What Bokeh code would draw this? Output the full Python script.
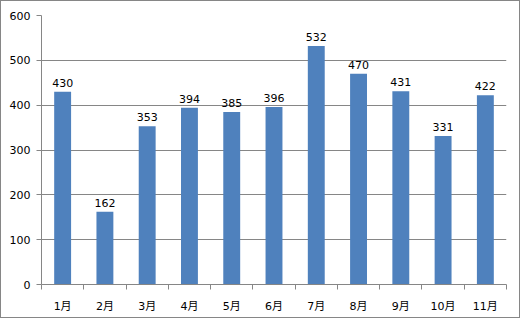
from bokeh.plotting import figure
from bokeh.models import ColumnDataSource, FixedTicker, Range1d
from bokeh.core.properties import value
from bokeh.embed import file_html
from bokeh.resources import INLINE

months = ["1月", "2月", "3月", "4月", "5月", "6月", "7月", "8月", "9月", "10月", "11月"]
values = [430, 162, 353, 394, 385, 396, 532, 470, 431, 331, 422]
y_ticks = [0, 100, 200, 300, 400, 500, 600]

FONT = "DejaVu Sans, Noto Sans CJK JP"
GREY = "#868686"
BLUE = "#4F81BD"

xs = list(range(1, len(months) + 1))
src = ColumnDataSource(dict(x=xs, v=values, lab=[str(v) for v in values]))

p = figure(width=520, height=318, output_backend="svg", toolbar_location=None,
           x_range=Range1d(0.5, len(months) + 0.5), y_range=Range1d(0, 600),
           min_border_left=40, min_border_right=15, min_border_top=14, min_border_bottom=35)
p.styles = {"border": "1px solid " + GREY}
p.outline_line_color = None
p.background_fill_color = "white"
p.border_fill_color = "white"

p.vbar(x="x", top="v", width=0.4, source=src, fill_color=BLUE, line_color=None)

p.text(x="x", y="v", text="lab", source=src, text_align="center",
       text_baseline="alphabetic", y_offset=-9, text_font=value("DejaVu Sans"),
       text_font_size="11px", text_color="black")

p.xgrid.visible = False
p.ygrid.grid_line_color = GREY
p.ygrid.ticker = FixedTicker(ticks=y_ticks)

p.xaxis.ticker = FixedTicker(ticks=xs, minor_ticks=[i + 0.5 for i in range(0, len(months) + 1)])
p.xaxis.major_label_overrides = {i: m for i, m in zip(xs, months)}
p.xaxis.major_tick_out = 0
p.xaxis.major_tick_in = 0
p.xaxis.minor_tick_out = 5
p.xaxis.minor_tick_in = 0
p.xaxis.minor_tick_line_color = GREY
p.xaxis.axis_line_color = GREY
p.xaxis.major_label_standoff = 10

p.yaxis.ticker = FixedTicker(ticks=y_ticks)
p.yaxis.major_tick_out = 5
p.yaxis.major_tick_in = 0
p.yaxis.major_tick_line_color = GREY
p.yaxis.minor_tick_line_color = None
p.yaxis.axis_line_color = GREY
p.yaxis.major_label_standoff = 6

for ax in (p.xaxis[0], p.yaxis[0]):
    ax.major_label_text_font = FONT
    ax.major_label_text_font_size = "11px"
    ax.major_label_text_color = "black"

open("out.html", "w").write(file_html(p, INLINE))
